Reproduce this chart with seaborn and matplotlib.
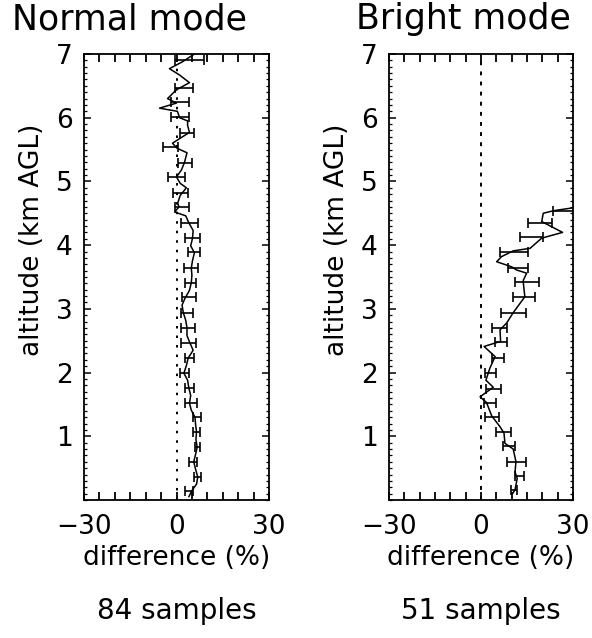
import matplotlib
matplotlib.use("Agg")
import matplotlib.pyplot as plt
import seaborn as sns
import numpy as np
from matplotlib.ticker import MultipleLocator

# ---------------- data ----------------
titles = ["Normal mode", "Bright mode"]
sample_labels = ["84 samples", "51 samples"]
x_tick_values = [-30, 0, 30]
y_tick_values = [1, 2, 3, 4, 5, 6, 7]

# Normal mode profile (altitude km, difference %)
normal_alt = [0.05, 0.14, 0.25, 0.36, 0.48, 0.60, 0.72, 0.83, 0.95, 1.07, 1.18, 1.30,
              1.41, 1.52, 1.64, 1.76, 1.88, 1.99, 2.11, 2.23, 2.35, 2.46, 2.58, 2.70,
              2.82, 2.94, 3.06, 3.17, 3.29, 3.41, 3.53, 3.64, 3.76, 3.88, 3.99, 4.11,
              4.23, 4.35, 4.46, 4.52, 4.60, 4.66, 4.78, 4.90, 4.97, 5.07, 5.18, 5.30,
              5.45, 5.52, 5.60, 5.65, 5.77, 5.88, 5.95, 6.00, 6.10, 6.15, 6.23, 6.30,
              6.44, 6.55, 6.67, 6.77, 6.88, 7.00]
normal_diff = [4.0, 4.9, 6.5, 6.9, 6.2, 5.6, 6.2, 6.7, 6.3, 6.5, 6.2, 6.0,
               4.8, 4.2, 4.6, 4.0, 3.6, 2.4, 3.2, 3.8, 5.4, 4.4, 3.4, 3.4,
               3.0, 2.2, 1.8, 2.8, 4.2, 4.8, 5.0, 4.8, 5.2, 5.8, 4.6, 5.2,
               5.4, 4.0, 3.0, -0.6, 0.8, 0.4, 1.2, 3.2, 1.2, 0.0, 1.6, 2.6,
               3.4, 0.2, -1.3, 0.3, 4.2, 3.6, 3.6, 1.0, 0.3, -5.5, 0.0, -2.9,
               0.0, 4.2, 1.0, -2.3, 2.0, 5.8]
normal_err_alt = [0.14, 0.36, 0.60, 0.83, 1.07, 1.30, 1.52, 1.76, 1.99, 2.23, 2.46, 2.70,
                  2.94, 3.19, 3.41, 3.64, 3.89, 4.11, 4.35, 4.60, 4.82, 5.07, 5.29, 5.54,
                  5.76, 6.01, 6.25, 6.47, 6.91]
normal_err_mid = [4.0, 6.9, 5.4, 6.7, 6.5, 6.7, 4.6, 4.2, 2.6, 4.2, 4.0, 3.7,
                  3.4, 4.0, 4.5, 4.6, 5.7, 5.2, 4.2, 1.8, 1.2, -0.1, 2.8, -2.0,
                  3.4, 1.2, 1.2, 2.3, 4.1]
normal_err_half = [1.35, 1.1, 1.2, 0.8, 1.2, 1.35, 2.0, 1.6, 1.6, 1.6, 2.4, 2.2,
                   2.1, 2.2, 1.9, 2.3, 2.0, 2.3, 2.7, 2.4, 2.4, 2.7, 2.3, 2.4,
                   2.4, 3.0, 2.95, 2.9, 4.7]

# Bright mode profile
bright_alt = [0.10, 0.16, 0.34, 0.44, 0.60, 0.80, 0.89, 1.05, 1.15, 1.32, 1.53, 1.62,
              1.77, 1.88, 2.07, 2.25, 2.41, 2.49, 2.67, 2.78, 2.94, 3.19, 3.41, 3.45,
              3.56, 3.61, 3.66, 3.74, 3.82, 3.91, 3.95, 4.11, 4.20, 4.37, 4.50, 4.54,
              4.60]
bright_diff = [10.3, 11.1, 11.8, 11.1, 11.4, 10.5, 7.8, 7.5, 6.2, 3.5, 1.8, -0.3,
               4.0, 1.6, 2.9, 4.6, 1.0, 6.4, 6.2, 8.4, 10.5, 14.3, 13.8, 13.8,
               14.9, 11.6, 10.0, 5.1, 6.7, 10.5, 16.0, 19.8, 26.6, 19.8, 20.3, 23.6,
               32.0]
bright_err_alt = [0.15, 0.37, 0.60, 0.84, 1.07, 1.30, 1.53, 1.75, 2.00, 2.23, 2.48, 2.70,
                  2.93, 3.18, 3.42, 3.64, 3.89, 4.12, 4.35, 4.54]
bright_err_mid = [10.7, 12.6, 11.5, 9.2, 7.4, 3.7, 3.0, 4.0, 3.1, 5.6, 6.6, 6.0,
                  10.5, 14.0, 15.0, 12.0, 10.8, 16.5, 19.2, 27.5]
bright_err_half = [0.9, 1.5, 3.1, 1.9, 2.5, 2.3, 2.0, 2.4, 1.7, 1.9, 2.0, 2.4,
                   4.1, 3.6, 3.9, 3.3, 4.6, 3.8, 3.8, 4.0]

profiles = [
    (normal_alt, normal_diff, normal_err_alt, normal_err_mid, normal_err_half, (0, (1.3, 3.6))),
    (bright_alt, bright_diff, bright_err_alt, bright_err_mid, bright_err_half, (0, (2.0, 3.2))),
]

# ---------------- figure ----------------
sns.set_theme(style="white")
plt.rcParams['font.family'] = ['DejaVu Sans']
plt.rcParams['text.color'] = 'black'

W, H = 592, 638
fig = plt.figure(figsize=(W / 100, H / 100), dpi=100)
fig.patch.set_facecolor("white")

ax_boxes = [(84, 269), (389, 573)]
top_px, bot_px = 54, 500
fs = 19

for i, (x0, x1) in enumerate(ax_boxes):
    ax = fig.add_axes([x0 / W, 1 - bot_px / H, (x1 - x0) / W, (bot_px - top_px) / H])
    alt, diff, ealt, emid, ehalf, zls = profiles[i]
    ax.axvline(0, color="black", lw=1.4, ls=zls, zorder=1)
    sns.lineplot(x=diff, y=alt, sort=False, estimator=None, color="black",
                 lw=1.1, ax=ax, zorder=3)
    ax.errorbar(emid, ealt, xerr=ehalf, fmt="none", ecolor="black",
                elinewidth=1.2, capsize=3.3, capthick=1.2, zorder=3)
    ax.set_xlim(-30, 30)
    ax.set_ylim(0, 7)
    ax.set_xlabel("")
    ax.set_ylabel("")
    xt = np.arange(-30, 31, 5)
    ax.set_xticks(xt)
    ax.set_xticklabels([("\u221230" if v == -30 else str(v)) if v in x_tick_values else ""
                        for v in xt])
    ax.set_yticks(y_tick_values)
    ax.set_yticklabels([str(v) for v in y_tick_values])
    ax.yaxis.set_minor_locator(MultipleLocator(0.1))
    ax.tick_params(axis="x", which="major", direction="in", length=6, width=1.3,
                   top=True, bottom=True, labelsize=fs, pad=10, colors="black")
    ax.tick_params(axis="y", which="major", direction="in", length=5, width=1.1,
                   left=True, right=True, labelsize=fs, pad=8, colors="black")
    ax.tick_params(axis="y", which="minor", direction="in", length=2.5, width=0.9,
                   left=True, right=True, colors="black")
    for sp in ax.spines.values():
        sp.set_visible(True)
        sp.set_color("black")
        sp.set_linewidth(1.3)
    ax.set_facecolor("white")
    ax.grid(False)

    cx = (x0 + x1) / 2
    fig.text(cx / W, 1 - 558 / H, "difference (%)", ha="center", va="center",
             fontsize=fs, color="black")
    fig.text(cx / W, 1 - 611 / H, sample_labels[i], ha="center", va="center",
             fontsize=fs + 1, color="black")
    fig.text((x0 - 52) / W, 1 - 240 / H, "altitude (km AGL)", ha="center", va="center",
             rotation=90, fontsize=fs, color="black")

fig.text(129 / W, 1 - 19 / H, titles[0], ha="center", va="center", fontsize=25, color="black")
fig.text(463 / W, 1 - 19 / H, titles[1], ha="center", va="center", fontsize=25, color="black")

fig.savefig("out.png", dpi=100, facecolor="white")
